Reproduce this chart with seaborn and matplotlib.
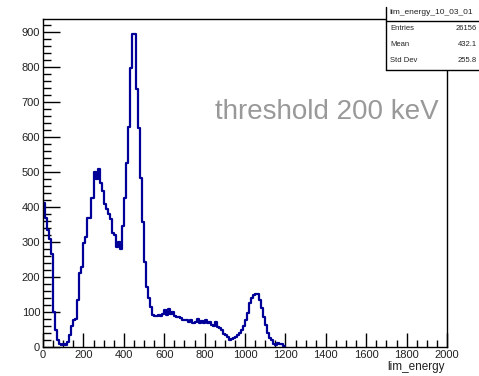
import numpy as np
import pandas as pd
import seaborn as sns
import matplotlib
matplotlib.use("Agg")
import matplotlib.pyplot as plt
from matplotlib.ticker import MultipleLocator

# ---- data (10-unit bins, lower edges 0..1190) ----
bin_width = 10
counts = [
    411, 370, 335, 310, 265, 100, 50, 20, 10, 5,          # 0-90
    8, 5, 15, 35, 60, 77, 80, 135, 211, 229,              # 100-190
    297, 314, 368, 368, 425, 500, 480, 510, 470, 445,     # 200-290
    410, 395, 380, 365, 325, 320, 285, 300, 280, 345,     # 300-390
    425, 525, 630, 797, 896, 896, 739, 625, 482, 358,     # 400-490
    244, 172, 140, 115, 92, 90, 90, 92, 90, 95,           # 500-590
    105, 92, 108, 95, 100, 88, 86, 86, 82, 78,            # 600-690
    77, 78, 72, 77, 70, 72, 80, 70, 75, 68,               # 700-790
    78, 70, 72, 64, 60, 72, 57, 54, 48, 38,               # 800-890
    34, 28, 20, 22, 25, 28, 34, 40, 49, 60,               # 900-990
    77, 97, 125, 140, 148, 151, 151, 134, 111, 86,        # 1000-1090
    63, 40, 25, 20, 8, 5, 12, 10, 8, 3,                   # 1100-1190
]
bin_lo = np.arange(len(counts)) * bin_width
x_ticks = [0, 200, 400, 600, 800, 1000, 1200, 1400, 1600, 1800, 2000]
y_ticks = [0, 100, 200, 300, 400, 500, 600, 700, 800, 900]
stats_name = "lim_energy_10_03_01"
stats_labels = ["Entries", "Mean", "Std Dev"]
stats_values = ["26156", "432.1", "255.8"]
annotation = "threshold 200 keV"

df = pd.DataFrame({"lim_energy": bin_lo + bin_width / 2, "n": counts})
edges = [float(e) for e in np.append(bin_lo, bin_lo[-1] + bin_width)]

W, H = 479, 376
sns.set_style("ticks")
plt.rcParams["font.family"] = ["Liberation Sans", "DejaVu Sans"]
fig = plt.figure(figsize=(W / 100, H / 100), dpi=100)
fig.patch.set_facecolor("white")

ax = fig.add_axes([43 / W, 1 - 347 / H, (447 - 43) / W, (347 - 19) / H])
sns.histplot(data=df, x="lim_energy", weights="n", bins=edges, element="step",
             fill=False, color="#000099", linewidth=1.6, ax=ax)

ax.set_xlim(0, 2000)
ax.set_ylim(0, 938)
ax.set_xticks(x_ticks)
ax.set_yticks(y_ticks)
ax.xaxis.set_minor_locator(MultipleLocator(50))
ax.yaxis.set_minor_locator(MultipleLocator(20))
ax.tick_params(which="major", direction="in", width=1, color="black",
               top=False, right=False, labelsize=8, labelcolor="#222222", pad=2)
ax.tick_params(which="minor", direction="in", width=1, color="black",
               top=False, right=False)
ax.tick_params(axis="x", which="major", length=10)
ax.tick_params(axis="x", which="minor", length=5)
ax.tick_params(axis="y", which="major", length=12)
ax.tick_params(axis="y", which="minor", length=6)
for s in ax.spines.values():
    s.set_visible(True)
    s.set_color("black")
    s.set_linewidth(1.0)
ax.set_xlabel("")
ax.set_ylabel("")
ax.grid(False)

fig.text(445 / W, 1 - 367 / H, "lim_energy", ha="right", va="center",
         fontsize=8.5, color="#222222")

fig.text(215 / W, 1 - 119 / H, annotation, ha="left", va="baseline",
         fontsize=20, color="#999999")

# stats box (drawn in figure pixel coordinates)
def fy(py):
    return 1 - py / H

bg = plt.Rectangle((386 / W, fy(70)), 1.0, 70 / H, transform=fig.transFigure,
                   facecolor="white", edgecolor="none", zorder=5)
fig.add_artist(bg)
for xs, ys in [([386, 386], [7, 70]), ([386, 490], [70, 70]), ([386, 490], [20.5, 20.5])]:
    fig.add_artist(plt.Line2D([x / W for x in xs], [fy(y) for y in ys],
                              transform=fig.transFigure, color="black", lw=1.0, zorder=6))
fig.text(389 / W, fy(12), stats_name, ha="left", va="center", fontsize=6,
         color="#222222", zorder=7)
for i, (lab, val) in enumerate(zip(stats_labels, stats_values)):
    yy = fy(28 + 16 * i)
    fig.text(390 / W, yy, lab, ha="left", va="center", fontsize=5.5,
             color="#222222", zorder=7)
    fig.text(477 / W, yy, val, ha="right", va="center", fontsize=5.5,
             color="#222222", zorder=7)

fig.savefig("out.png", dpi=100)
